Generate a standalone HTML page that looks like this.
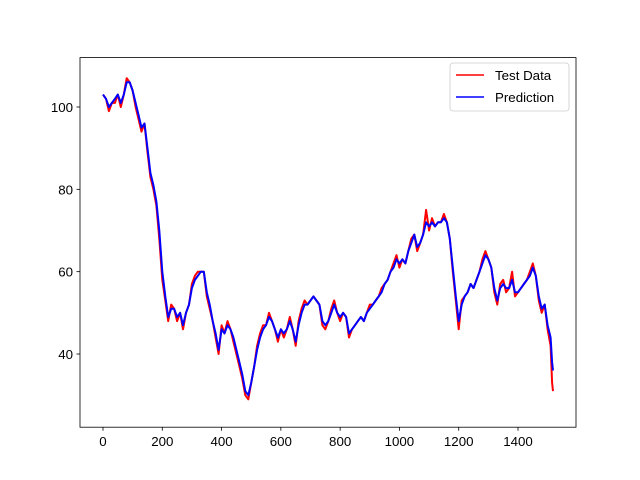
<!DOCTYPE html>
<html><head><meta charset="utf-8"><style>
body{margin:0;background:#fff}
svg{display:block;font-family:"Liberation Sans","DejaVu Sans",sans-serif}
</style></head><body>
<svg id="chart" width="640" height="480" viewBox="0 0 640 480">
<rect x="0" y="0" width="640" height="480" fill="#fff"/>
<g id="plot"></g>
<rect x="80" y="57.6" width="496" height="369.6" fill="none" stroke="#000" stroke-width="0.8"/>
<g id="xticks"></g><g id="yticks"></g>
<g>
<rect x="450" y="63" width="119" height="48" rx="3" fill="#fff" fill-opacity="0.8" stroke="#ccc" stroke-width="0.8"/>
<line x1="456" y1="75" x2="484" y2="75" stroke="red" stroke-width="1.6"/>
<text x="495" y="80" font-size="13.3">Test Data</text>
<line x1="456" y1="97" x2="484" y2="97" stroke="blue" stroke-width="1.6"/>
<text x="495" y="102" font-size="13.3">Prediction</text>
</g>
</svg>
<script>
const days=[0,10,20,30,40,50,60,70,80,90,100,110,120,130,140,150,160,170,180,190,200,210,220,230,240,250,260,270,280,290,300,310,320,330,340,350,360,370,380,390,400,410,420,430,440,450,460,470,480,490,500,510,520,530,540,550,560,570,580,590,600,610,620,630,640,650,660,670,680,690,700,710,720,730,740,750,760,770,780,790,800,810,820,830,840,850,860,870,880,890,900,910,920,930,940,950,960,970,980,990,1000,1010,1020,1030,1040,1050,1060,1070,1080,1090,1100,1110,1120,1130,1140,1150,1160,1170,1180,1190,1200,1210,1220,1230,1240,1250,1260,1270,1280,1290,1300,1310,1320,1330,1340,1350,1360,1370,1380,1390,1400,1410,1420,1430,1440,1450,1460,1470,1480,1490,1500,1510,1515,1518];
const testData=[103,102,99,101,101,103,100,103,107,106,104,100,97,94,96,89,83,80,76,68,58,53,48,52,51,48,50,46,50,52,57,59,60,60,60,54,51,48,44,40,47,45,48,46,43,40,37,34,30,29,33,37,42,45,47,47,50,48,46,43,46,44,46,49,46,42,48,51,53,52,53,54,53,52,47,46,48,51,53,50,48,50,49,44,46,47,48,49,48,50,52,52,53,54,56,57,58,60,62,64,61,63,62,65,68,69,65,67,69,75,70,73,71,72,72,74,72,68,60,53,46,53,54,55,57,56,58,60,63,65,63,61,55,52,57,58,55,56,60,54,55,56,57,58,60,62,59,53,50,52,46,42,33,31];
const prediction=[103,102,100,101,102,103,101,103,106,106,104,101,98,95,96,90,84,81,77,70,60,54,49,51,51,49,50,47,50,52,56,58,59,60,60,55,52,48,45,41,46,45,47,46,44,41,38,35,31,30,33,37,41,44,46,47,49,48,46,44,46,45,46,48,46,43,47,50,52,52,53,54,53,52,48,47,48,50,52,50,49,50,49,45,46,47,48,49,48,50,51,52,53,54,55,57,58,60,61,63,62,63,62,65,67,69,66,67,69,72,71,72,71,72,72,73,72,68,61,54,48,52,54,55,57,56,58,60,62,64,63,61,56,53,56,57,56,56,58,55,55,56,57,58,59,61,59,54,51,52,47,44,38,36];
const xTicks=[0,200,400,600,800,1000,1200,1400];
const yTicks=[40,60,80,100];
const NS="http://www.w3.org/2000/svg";
const xS=v=>103+v*0.29643;
const yS=v=>107+(100-v)*4.1167;
const plot=document.getElementById('plot');
function line(vals,color,name){
  const p=document.createElementNS(NS,'polyline');
  p.setAttribute('points',vals.map((v,i)=>xS(days[i]).toFixed(1)+','+yS(v).toFixed(1)).join(' '));
  p.setAttribute('fill','none');p.setAttribute('stroke',color);p.setAttribute('stroke-width','2');
  p.setAttribute('stroke-linejoin','round');
  
  
  plot.appendChild(p);
}
line(testData,'red','test-data-line');
line(prediction,'blue','prediction-line');
const xg=document.getElementById('xticks');
xTicks.forEach(t=>{
  const x=xS(t);
  const l=document.createElementNS(NS,'line');
  l.setAttribute('x1',x);l.setAttribute('x2',x);l.setAttribute('y1',427.2);l.setAttribute('y2',430.7);l.setAttribute('stroke','#000');l.setAttribute('stroke-width','0.8');
  
  
  xg.appendChild(l);
  const tx=document.createElementNS(NS,'text');
  tx.setAttribute('x',x);tx.setAttribute('y',446);tx.setAttribute('text-anchor','middle');tx.setAttribute('font-size','13.3');
  tx.textContent=t;
  
  
  xg.appendChild(tx);
});
const yg=document.getElementById('yticks');
yTicks.forEach(t=>{
  const y=yS(t);
  const l=document.createElementNS(NS,'line');
  l.setAttribute('x1',76.5);l.setAttribute('x2',80);l.setAttribute('y1',y);l.setAttribute('y2',y);l.setAttribute('stroke','#000');l.setAttribute('stroke-width','0.8');
  
  
  yg.appendChild(l);
  const tx=document.createElementNS(NS,'text');
  tx.setAttribute('x',73);tx.setAttribute('y',y+5);tx.setAttribute('text-anchor','end');tx.setAttribute('font-size','13.3');
  tx.textContent=t;
  
  
  yg.appendChild(tx);
});
</script>
</body></html>
